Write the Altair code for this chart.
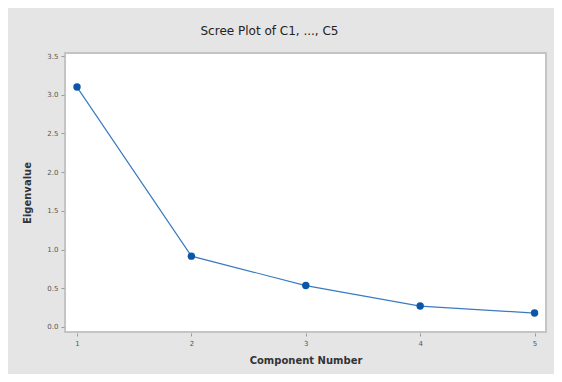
import altair as alt
import pandas as pd

components = [1, 2, 3, 4, 5]
eigenvalues = [3.10, 0.915, 0.535, 0.27, 0.18]

df = pd.DataFrame({"Component": components, "Eigenvalue": eigenvalues})

x = alt.X("Component:Q", title="Component Number",
          scale=alt.Scale(domain=[0.895, 5.1], nice=False, zero=False),
          axis=alt.Axis(values=[1, 2, 3, 4, 5], format="d", grid=False))
y = alt.Y("Eigenvalue:Q", title="Eigenvalue",
          scale=alt.Scale(domain=[-0.065, 3.54], nice=False, zero=False),
          axis=alt.Axis(values=[0, 0.5, 1, 1.5, 2, 2.5, 3, 3.5], format=".1f", grid=False))

line = alt.Chart(df).mark_line(color="#3a7bc0", strokeWidth=1.2).encode(x=x, y=y)
pts = alt.Chart(df).mark_circle(color="#0a56a8", size=55, opacity=1).encode(x=x, y=y)

chart = (line + pts).properties(
    width=481, height=279,
    title=alt.TitleParams("Scree Plot of C1, ..., C5", fontSize=12, font="DejaVu Sans",
                          fontWeight="normal", color="#222222", offset=14, anchor="middle",
                          dx=-36),
    autosize=alt.AutoSizeParams(type="none"),
    padding={"left": 57, "top": 45, "right": 8, "bottom": 42},
).configure(background="#e5e5e5").configure_view(
    fill="white", stroke="#c4c4c4", strokeWidth=2
).configure_axis(
    domain=False, tickColor="#9a9a9a", tickSize=3, labelColor="#555555",
    labelFontSize=7, labelFont="DejaVu Sans", titleFont="DejaVu Sans", titleFontSize=10,
    titleColor="#333333", titleFontWeight="bold", labelPadding=3
).configure_axisX(titlePadding=9, offset=1).configure_axisY(titlePadding=14, offset=1)

chart.save("out.html", embed_options={"renderer": "svg", "actions": False})
